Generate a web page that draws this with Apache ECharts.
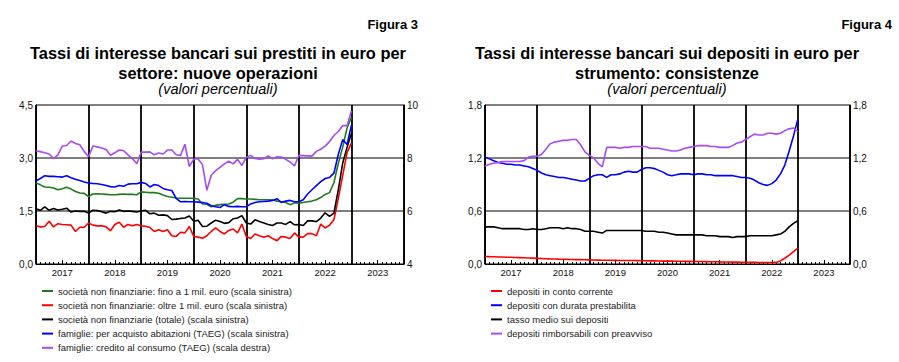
<!DOCTYPE html>
<html><head><meta charset="utf-8">
<script src="https://cdn.jsdelivr.net/npm/echarts@6/dist/echarts.min.js"></script>
<style>html,body{margin:0;padding:0;background:#fff}#c{width:899px;height:362px}</style>
</head><body><div id="c"></div>
<script>
// x = month index from the start of 2017 (0) to the end of 2023 (84)
const yearLabels = ['2017','2018','2019','2020','2021','2022','2023'];
const leftNames = [
  'società non finanziarie: fino a 1 mil. euro (scala sinistra)',
  'società non finanziarie: oltre 1 mil. euro (scala sinistra)',
  'società non finanziarie (totale) (scala sinistra)',
  'famiglie: per acquisto abitazioni (TAEG) (scala sinistra)',
  'famiglie: credito al consumo (TAEG) (scala destra)'
];
const rightNames = [
  'depositi in conto corrente',
  'depositi con durata prestabilita',
  'tasso medio sui depositi',
  'depositi rimborsabili con preavviso'
];
// Figura 3
const nfcSmall = [2.29,2.24,2.18,2.17,2.15,2.10,2.13,2.17,2.12,2.05, 2.01,2.00,1.91,1.98,1.99,1.98,1.97,1.96,1.96,1.97, 1.98,1.97,1.97,1.96,2.04,2.03,2.02,2.02,2.00,1.95, 1.91,1.89,1.87,1.86,1.86,1.86,1.86,1.84,1.70,1.69, 1.62,1.66,1.68,1.69,1.70,1.75,1.85,1.85,1.84,1.84, 1.83,1.82,1.82,1.82,1.81,1.78,1.76,1.74,1.68,1.73, 1.72,1.74,1.76,1.78,1.82,1.88,1.97,2.02,2.30,2.85, 3.30,3.85,4.15];
const nfcLarge = [1.08,1.05,1.06,1.21,1.05,1.14,1.12,1.11,1.10,0.92, 1.04,1.04,1.16,1.10,1.08,1.08,1.05,0.94,1.12,1.18, 1.04,1.12,1.08,1.12,1.08,1.07,1.03,0.92,0.97,0.92, 0.97,0.80,0.78,0.90,0.88,1.06,0.78,0.76,0.73,0.80, 0.92,1.02,0.92,0.85,0.95,0.99,0.88,1.13,0.78,0.72, 0.85,0.80,0.76,0.80,0.72,0.66,0.78,0.76,0.72,0.88, 0.76,0.76,0.86,0.86,0.80,1.13,1.02,1.10,1.25,1.85, 2.50,3.15,3.42];
const nfcTotal = [1.56,1.52,1.62,1.52,1.57,1.53,1.55,1.58,1.47,1.50, 1.49,1.49,1.44,1.52,1.51,1.48,1.44,1.49,1.48,1.53, 1.49,1.50,1.49,1.47,1.50,1.52,1.42,1.44,1.38,1.39, 1.37,1.26,1.27,1.29,1.30,1.36,1.21,1.24,1.06,1.07, 1.16,1.24,1.20,1.15,1.17,1.28,1.30,1.37,1.16,1.13, 1.25,1.20,1.16,1.12,1.09,1.16,1.16,1.12,1.20,1.11, 1.12,1.09,1.22,1.22,1.20,1.30,1.45,1.35,1.44,2.10, 2.85,3.30,3.70];
const mortgages = [2.35,2.42,2.50,2.48,2.48,2.47,2.46,2.50,2.44,2.40, 2.36,2.32,2.29,2.28,2.27,2.25,2.22,2.19,2.18,2.22, 2.20,2.26,2.27,2.27,2.31,2.28,2.18,2.25,2.22,2.14, 2.10,2.08,1.86,1.76,1.77,1.76,1.76,1.75,1.74,1.72, 1.65,1.62,1.60,1.68,1.63,1.62,1.63,1.62,1.62,1.70, 1.74,1.76,1.77,1.78,1.80,1.85,1.74,1.78,1.80,1.76, 1.76,1.82,1.98,2.10,2.22,2.33,2.42,2.45,2.57,3.10, 3.52,3.38,3.93];
const consumer = [8.27,8.24,8.20,8.15,7.98,8.12,8.45,8.47,8.64,8.55, 8.50,8.25,8.05,8.45,8.42,8.38,8.32,8.10,8.20,8.30, 8.28,8.12,7.98,7.78,8.22,8.22,8.23,8.12,8.19,8.15, 8.30,8.30,8.12,8.10,8.52,7.68,7.96,7.96,7.75,6.78, 7.35,7.52,7.65,7.78,7.88,7.78,7.95,7.72,8.02,8.10, 7.98,7.95,7.97,8.08,7.97,8.05,8.04,7.95,7.85,7.70, 8.10,8.09,8.08,8.07,8.25,8.33,8.45,8.62,8.85,9.00, 9.22,9.22,9.78];
// Figura 4
const overnight = [0.085,0.083,0.082,0.080,0.079,0.077,0.076,0.074,0.072,0.070, 0.068,0.066,0.064,0.062,0.060,0.058,0.057,0.055,0.054,0.052, 0.051,0.050,0.049,0.048,0.047,0.045,0.044,0.043,0.043,0.042, 0.041,0.040,0.040,0.039,0.039,0.038,0.037,0.036,0.035,0.035, 0.034,0.033,0.033,0.032,0.031,0.031,0.030,0.030,0.029,0.028, 0.028,0.027,0.026,0.025,0.024,0.023,0.022,0.021,0.021,0.020, 0.019,0.018,0.018,0.017,0.017,0.017,0.017,0.018,0.035,0.065, 0.100,0.140,0.180];
const fixedTerm = [1.21,1.19,1.17,1.15,1.14,1.13,1.13,1.12,1.12,1.11, 1.10,1.08,1.06,1.03,1.01,1.00,0.99,0.98,0.98,0.97, 0.96,0.95,0.94,0.94,0.97,1.00,1.01,1.01,0.98,1.01, 1.01,1.02,1.04,1.05,1.04,1.04,1.07,1.09,1.09,1.08, 1.06,1.04,1.01,1.00,1.01,1.02,1.02,1.02,1.01,1.02, 1.02,1.01,1.01,1.00,1.00,1.00,1.00,1.00,0.99,0.98, 0.98,0.97,0.95,0.92,0.90,0.89,0.91,0.95,1.02,1.12, 1.28,1.45,1.64];
const avgRate = [0.42,0.42,0.42,0.41,0.40,0.40,0.40,0.40,0.40,0.39, 0.39,0.40,0.39,0.39,0.40,0.41,0.41,0.41,0.40,0.41, 0.40,0.40,0.39,0.37,0.37,0.37,0.36,0.35,0.38,0.38, 0.38,0.38,0.38,0.38,0.38,0.38,0.38,0.37,0.37,0.37, 0.36,0.36,0.35,0.34,0.33,0.33,0.33,0.33,0.33,0.33, 0.33,0.32,0.32,0.32,0.31,0.31,0.31,0.30,0.31,0.31, 0.31,0.32,0.32,0.32,0.32,0.32,0.32,0.33,0.34,0.37, 0.42,0.46,0.49];
const notice = [1.11,1.13,1.14,1.15,1.16,1.16,1.16,1.16,1.16,1.17, 1.21,1.22,1.22,1.24,1.30,1.36,1.38,1.39,1.40,1.40, 1.41,1.41,1.35,1.27,1.23,1.20,1.14,1.10,1.32,1.32, 1.32,1.31,1.32,1.32,1.33,1.33,1.33,1.33,1.31,1.31, 1.31,1.30,1.29,1.28,1.28,1.29,1.31,1.32,1.33,1.34, 1.34,1.34,1.33,1.33,1.32,1.32,1.32,1.34,1.37,1.38, 1.41,1.44,1.47,1.46,1.46,1.48,1.48,1.47,1.48,1.51, 1.53,1.54,1.50];

const FONT = '"Liberation Sans", Arial, sans-serif';
const comma = v => (Math.round(v * 10) / 10).toFixed(1).replace('.', ',');
const pts = arr => arr.map((v, i) => [i, v]);

function xAxis(grid) {
  return {
    type: 'value', gridIndex: grid, min: 0, max: 84, interval: 6,
    axisLine: { show: true, lineStyle: { color: '#000', width: 1 } },
    axisTick: { show: true, inside: true, length: 4, lineStyle: { color: '#000', width: 1 } },
    minorTick: { show: true, splitNumber: 6, length: 2, lineStyle: { color: '#000', width: 1 } },
    splitLine: { show: true, lineStyle: { color: ['#000', 'rgba(0,0,0,0)'], width: 1.8 } },
    axisLabel: {
      margin: 3, fontFamily: FONT, fontSize: 9.5, color: '#111',
      formatter: v => (v % 12 === 6 ? yearLabels[(v - 6) / 12] : '')
    }
  };
}
function yAxis(grid, min, max, interval, pos, fmt, split) {
  return {
    type: 'value', gridIndex: grid, min: min, max: max, interval: interval, position: pos,
    axisLine: { show: true, lineStyle: { color: '#000', width: 1 } },
    axisTick: { show: false },
    splitLine: split ? { show: true, lineStyle: { color: ['rgba(0,0,0,0)', '#7f7f7f', '#7f7f7f', 'rgba(0,0,0,0)'], width: 2 } } : { show: false },
    axisLabel: { margin: 3, fontFamily: FONT, fontSize: 10, color: '#111', formatter: fmt }
  };
}
function line(name, data, color, xi, yi) {
  return {
    name: name, type: 'line', xAxisIndex: xi, yAxisIndex: yi, data: pts(data),
    showSymbol: false, symbol: 'none', animation: false, smooth: false,
    lineStyle: { color: color, width: 1.6 }, itemStyle: { color: color }
  };
}
const cGreen = '#1f7a1f', cRed = '#ff0000', cBlack = '#000000', cBlue = '#0000ff', cPurple = '#a64bf4';

const titleBold = (x, y, t) => ({ type: 'text', x: x, y: y, style: { text: t, font: 'bold 16.4px ' + FONT, fill: '#000', align: 'center', verticalAlign: 'middle' } });
const subtitle = (x, y) => ({ type: 'text', x: x, y: y, style: { text: '(valori percentuali)', font: 'italic 14.5px ' + FONT, fill: '#000', align: 'center', verticalAlign: 'middle' } });
const figura = (x, y, t) => ({ type: 'text', x: x, y: y, style: { text: t, font: 'bold 13px ' + FONT, fill: '#000', align: 'right', verticalAlign: 'middle' } });

const legendBase = {
  orient: 'vertical', top: 284, height: 76, padding: 0, itemWidth: 11, itemHeight: 2, itemGap: 0.2,
  icon: 'rect', selectedMode: false,
  textStyle: { fontFamily: FONT, fontSize: 9.5, color: '#222', lineHeight: 14 }
};

const chart = echarts.init(document.getElementById('c'), null, { renderer: 'svg', width: 899, height: 362 });
chart.setOption({
  animation: false,
  backgroundColor: '#fff',
  graphic: [
    figura(418, 24, 'Figura 3'),
    titleBold(218, 53, 'Tassi di interesse bancari sui prestiti in euro per'),
    titleBold(218, 73, 'settore: nuove operazioni'),
    subtitle(218, 89),
    figura(892, 24, 'Figura 4'),
    titleBold(667, 53, 'Tassi di interesse bancari sui depositi in euro per'),
    titleBold(667, 73, 'strumento: consistenze'),
    subtitle(667, 89)
  ],
  grid: [
    { left: 36, top: 105, width: 368, height: 159, show: true, borderColor: '#000', borderWidth: 1, backgroundColor: 'rgba(0,0,0,0)', outerBoundsMode: 'none' },
    { left: 485, top: 105, width: 365, height: 159, show: true, borderColor: '#000', borderWidth: 1, backgroundColor: 'rgba(0,0,0,0)', outerBoundsMode: 'none' }
  ],
  xAxis: [xAxis(0), xAxis(1)],
  yAxis: [
    yAxis(0, 0, 4.5, 1.5, 'left', comma, true),
    yAxis(0, 4, 10, 2, 'right', v => String(Math.round(v)), false),
    yAxis(1, 0, 1.8, 0.6, 'left', comma, true),
    yAxis(1, 0, 1.8, 0.6, 'right', comma, false)
  ],
  legend: [
    Object.assign({}, legendBase, { data: leftNames, left: 42 }),
    Object.assign({}, legendBase, { data: rightNames, left: 491 })
  ],
  series: [
    line(leftNames[0], nfcSmall, cGreen, 0, 0),
    line(leftNames[1], nfcLarge, cRed, 0, 0),
    line(leftNames[2], nfcTotal, cBlack, 0, 0),
    line(leftNames[3], mortgages, cBlue, 0, 0),
    line(leftNames[4], consumer, cPurple, 0, 1),
    line(rightNames[0], overnight, cRed, 1, 2),
    line(rightNames[1], fixedTerm, cBlue, 1, 2),
    line(rightNames[2], avgRate, cBlack, 1, 2),
    line(rightNames[3], notice, cPurple, 1, 2)
  ]
});
</script></body></html>
